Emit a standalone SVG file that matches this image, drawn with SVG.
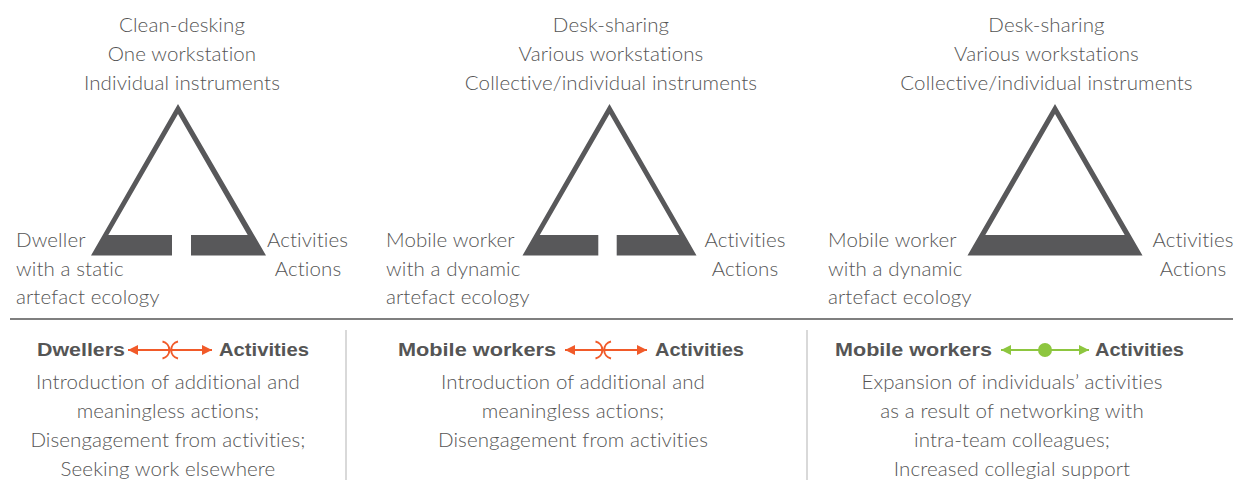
<svg xmlns="http://www.w3.org/2000/svg" width="1241" height="480" viewBox="0 0 1241 480">
<style>
.t{font-family:Lato,"Open Sans","Liberation Sans",sans-serif;font-weight:300;font-size:20.5px;letter-spacing:0.1px;fill:#555;font-variant-ligatures:none}
.c{text-anchor:middle}
.b{font-family:"Liberation Sans",Arial,sans-serif;font-weight:bold;font-size:19px;fill:#555}
.tri{fill:#58585a}
.ao{stroke:#f15a29;stroke-width:2;fill:none}
.ag{stroke:#8dc63f;stroke-width:2;fill:none}
</style>
<defs>
<marker id="mo" viewBox="0 0 10 10" refX="10" refY="5" markerWidth="10" markerHeight="10" markerUnits="userSpaceOnUse" orient="auto-start-reverse"><path d="M0,0L10,5L0,10z" fill="#f15a29"/></marker>
<marker id="mg" viewBox="0 0 10 10" refX="10" refY="5" markerWidth="10" markerHeight="10" markerUnits="userSpaceOnUse" orient="auto-start-reverse"><path d="M0,0L10,5L0,10z" fill="#8dc63f"/></marker>
</defs>
<rect width="1241" height="480" fill="#fff"/>

<g id="triangle1">
<path class="tri" d="M178,104 L91,255.5 L172,255.5 L172,235 L108.3,235 L178,114 L247.7,235 L191,235 L191,255.5 L266,255.5 Z"/>
<text class="t c" x="182" y="32">Clean-desking</text>
<text class="t c" x="182" y="61">One workstation</text>
<text class="t c" x="182" y="90">Individual instruments</text>
<text class="t" x="16" y="247">Dweller</text>
<text class="t" x="16" y="275.5">with a static</text>
<text class="t" x="16" y="304">artefact ecology</text>
<text class="t c" x="307.5" y="247">Activities</text>
<text class="t c" x="308" y="275.5">Actions</text>
</g>

<g id="triangle2">
<path class="tri" d="M609.5,104 L522.5,255.5 L598.3,255.5 L598.3,235 L539.8,235 L609.5,114 L679.2,235 L616.7,235 L616.7,255.5 L696.5,255.5 Z"/>
<text class="t c" x="611" y="32">Desk-sharing</text>
<text class="t c" x="611" y="61">Various workstations</text>
<text class="t c" x="611" y="90">Collective/individual instruments</text>
<text class="t" x="386" y="247">Mobile worker</text>
<text class="t" x="386" y="275.5">with a dynamic</text>
<text class="t" x="386" y="304">artefact ecology</text>
<text class="t c" x="745" y="247">Activities</text>
<text class="t c" x="745" y="275.5">Actions</text>
</g>

<g id="triangle3">
<path class="tri" d="M1055,104 L967.5,255.5 L1142.5,255.5 Z M1055,114 L985.3,235 L1124.7,235 Z" fill-rule="evenodd"/>
<text class="t c" x="1046.5" y="32">Desk-sharing</text>
<text class="t c" x="1046.5" y="61">Various workstations</text>
<text class="t c" x="1046.5" y="90">Collective/individual instruments</text>
<text class="t" x="828" y="247">Mobile worker</text>
<text class="t" x="828" y="275.5">with a dynamic</text>
<text class="t" x="828" y="304">artefact ecology</text>
<text class="t c" x="1193" y="247">Activities</text>
<text class="t c" x="1193" y="275.5">Actions</text>
</g>

<g id="dividers">
<line x1="10" y1="319" x2="1233" y2="319" stroke="#555" stroke-width="1.5"/>
<line x1="346" y1="330" x2="346" y2="480" stroke="#ccc" stroke-width="1.5"/>
<line x1="807" y1="330" x2="807" y2="480" stroke="#ccc" stroke-width="1.5"/>
</g>

<g id="panel1">
<text class="b" x="37" y="356" textLength="88" lengthAdjust="spacingAndGlyphs">Dwellers</text>
<text class="b" x="219" y="356" textLength="90" lengthAdjust="spacingAndGlyphs">Activities</text>
<text class="t c" x="168" y="388.5">Introduction of additional and</text>
<text class="t c" x="168" y="417.5">meaningless actions;</text>
<text class="t c" x="168" y="446.5">Disengagement from activities;</text>
<text class="t c" x="168" y="475.5">Seeking work elsewhere</text>
</g>
<g id="panel2">
<text class="b" x="398" y="356" textLength="158" lengthAdjust="spacingAndGlyphs">Mobile workers</text>
<text class="b" x="655" y="356" textLength="89" lengthAdjust="spacingAndGlyphs">Activities</text>
<text class="t c" x="573" y="388.5">Introduction of additional and</text>
<text class="t c" x="573" y="417.5">meaningless actions;</text>
<text class="t c" x="573" y="446.5">Disengagement from activities</text>
</g>
<g id="panel3">
<text class="b" x="835" y="356" textLength="157" lengthAdjust="spacingAndGlyphs">Mobile workers</text>
<text class="b" x="1095" y="356" textLength="89" lengthAdjust="spacingAndGlyphs">Activities</text>
<text class="t c" x="1012" y="388.5">Expansion of individuals’ activities</text>
<text class="t c" x="1012" y="417.5">as a result of networking with</text>
<text class="t c" x="1012" y="446.5">intra-team colleagues;</text>
<text class="t c" x="1012" y="475.5">Increased collegial support</text>
</g>

<g id="connectors">
<line class="ao" x1="128" y1="350" x2="212" y2="350" marker-start="url(#mo)" marker-end="url(#mo)"/>
<path class="ao" d="M162.5,341.5 A8.7,8.7 0 0 1 162.5,358.5 M178,341.5 A8.7,8.7 0 0 0 178,358.5"/>
<line class="ao" x1="565" y1="350" x2="647" y2="350" marker-start="url(#mo)" marker-end="url(#mo)"/>
<path class="ao" d="M595.5,341.5 A8.7,8.7 0 0 1 595.5,358.5 M611,341.5 A8.7,8.7 0 0 0 611,358.5"/>
<line class="ag" x1="1001" y1="350" x2="1089" y2="350" marker-start="url(#mg)" marker-end="url(#mg)"/>
<circle cx="1045" cy="350" r="7" fill="#8dc63f"/>
</g>
</svg>
